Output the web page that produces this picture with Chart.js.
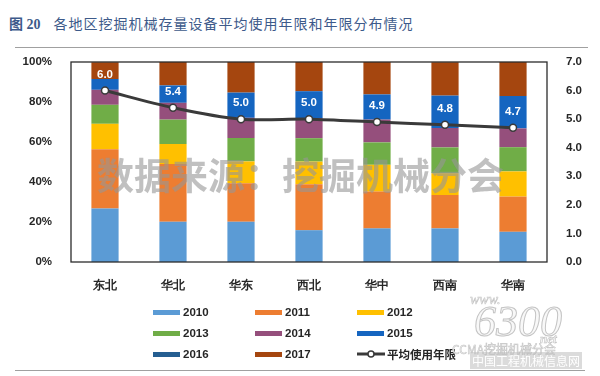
<!DOCTYPE html>
<html>
<head>
<meta charset="utf-8">
<script src="https://cdn.jsdelivr.net/npm/chart.js@4"></script>
<style>
	html, body { margin: 0; padding: 0; background: #fff; }
	#wrap { position: relative; width: 600px; height: 376px; overflow: hidden; font-family: Arial, "Liberation Sans", "Noto Sans CJK SC", sans-serif; }
	#salesChart { position: absolute; left: 0; top: 0; }
	.title { position: absolute; left: 9px; top: 13px; font-size: 14px; color: #3d5a8a; letter-spacing: 1px; font-family: "Noto Sans CJK SC", sans-serif; white-space: nowrap; }
	.title b { font-family: "Liberation Serif", "Noto Sans CJK SC", serif; font-weight: bold; margin-right: 13px; letter-spacing: 0; }
	.rule { position: absolute; left: 15px; width: 573px; height: 1px; background: #a0a0a0; }
	#legend { position: absolute; left: 153px; top: 304px; display: grid; grid-template-columns: 102px 102px 130px; row-gap: 5px; }
	.item { display: flex; align-items: center; height: 16px; font-size: 11.5px; font-weight: bold; color: #262626; white-space: nowrap; }
	.sw { width: 27px; height: 5px; margin-right: 3px; }
	.logo { position: absolute; color: #fff; pointer-events: none; }
</style>
</head>
<body>
<div id="wrap">
	<div class="title"><b>图 20</b>各地区挖掘机械存量设备平均使用年限和年限分布情况</div>
	<div class="rule" style="top:47px"></div>
	<canvas id="salesChart" width="600" height="376"></canvas>
	<div id="legend"></div>
	<div class="rule" style="top:370px;width:570px"></div>
	<div class="logo" style="left:470px;top:292px;font:italic 14px 'Liberation Serif',serif;color:#f4f4f4;-webkit-text-stroke:0.6px #c8c8c8">www.</div>
	<div class="logo" style="left:474px;top:296px;font:italic 44px 'Liberation Serif',serif;color:#f8f8f8;-webkit-text-stroke:1px #c4c4c4">6300</div>
	<div class="logo" style="left:540px;top:331px;font:italic bold 13px 'Liberation Serif',serif;color:#f4f4f4;-webkit-text-stroke:0.6px #c4c4c4">net</div>
	<div class="logo" style="left:452px;top:340px;font-size:12px;color:#f2f2f2;-webkit-text-stroke:0.5px #c0c0c0;font-family:'Noto Sans CJK SC',sans-serif">CCMA挖掘机械分会</div>
	<div class="logo" style="left:470px;top:352px;font-size:12px;color:#fff;background:rgba(190,190,190,0.55);padding:0 2px;font-family:'Noto Sans CJK SC',sans-serif">中国工程机械信息网</div>
</div>
<script>
const regions = ["东北", "华北", "华东", "西北", "华中", "西南", "华南"];
const y2010 = [26.8, 20.1, 20.1, 15.9, 16.8, 16.8, 15.1];
const y2011 = [29.6, 28.9, 19.3, 23.0, 18.4, 16.7, 17.6];
const y2012 = [12.7, 10.0, 10.9, 11.3, 13.4, 10.9, 12.6];
const y2013 = [9.5, 12.2, 11.7, 11.7, 11.2, 12.9, 12.1];
const y2014 = [7.5, 8.4, 10.1, 10.1, 11.4, 9.7, 9.4];
const y2015 = [5.4, 8.7, 12.6, 13.4, 12.6, 16.2, 16.2];
const y2016 = [0, 0, 0, 0, 0, 0, 0];
const y2017 = [8.4, 11.7, 15.4, 14.6, 16.2, 16.7, 17.1];
const avgYears = [6.0, 5.4, 5.0, 5.0, 4.9, 4.8, 4.7];

const pctTicks = [0, 20, 40, 60, 80, 100];
const yearTicks = [0, 1, 2, 3, 4, 5, 6, 7];

const yearNames = ["2010", "2011", "2012", "2013", "2014", "2015", "2016", "2017"];
const yearValues = [y2010, y2011, y2012, y2013, y2014, y2015, y2016, y2017];
const yearColors = ["#5b9bd5", "#ed7d31", "#ffc000", "#70ad47", "#954f7c", "#1565c0", "#255e91", "#a5460f"];

const tickFont = { family: "Arial, 'Liberation Sans', sans-serif", size: 11.5, weight: "bold" };

const datasets = yearNames.map((name, i) => ({
	type: "bar",
	label: name,
	data: yearValues[i],
	backgroundColor: yearColors[i],
	borderWidth: 0,
	barPercentage: 0.4,
	categoryPercentage: 1.0,
	yAxisID: "y",
	order: 2,
}));

datasets.push({
	type: "line",
	label: "平均使用年限",
	data: avgYears,
	yAxisID: "y2",
	borderColor: "#3a3a3a",
	borderWidth: 3,
	tension: 0.3,
	pointRadius: 3.5,
	pointBackgroundColor: "#ffffff",
	pointBorderColor: "#3a3a3a",
	pointBorderWidth: 1.5,
	order: 0,
});

// frame, point labels and watermark
const extras = {
	id: "extras",
	afterDatasetsDraw(chart) {
		const ctx = chart.ctx;
		const a = chart.chartArea;
		ctx.save();
		ctx.strokeStyle = "#2b2b2b";
		ctx.lineWidth = 1.3;
		ctx.strokeRect(a.left, a.top, a.right - a.left, a.bottom - a.top);

		const meta = chart.getDatasetMeta(chart.data.datasets.length - 1);
		ctx.fillStyle = "#ffffff";
		ctx.font = "bold 11.5px Arial, 'Liberation Sans', sans-serif";
		ctx.textAlign = "center";
		ctx.textBaseline = "middle";
		meta.data.forEach((pt, i) => {
			ctx.fillText(avgYears[i].toFixed(1), pt.x, pt.y - 16);
		});

		ctx.font = "bold 37px 'Noto Sans CJK SC', sans-serif";
		ctx.fillStyle = "rgba(150, 150, 150, 0.6)";
		ctx.textAlign = "left";
		ctx.fillText("数据来源：挖掘机械分会", 97, 176);
		ctx.restore();
	},
};

new Chart(document.getElementById("salesChart"), {
	data: { labels: regions, datasets: datasets },
	options: {
		responsive: false,
		animation: false,
		layout: { padding: { top: 62, bottom: 84, left: 0, right: 0 } },
		plugins: { legend: { display: false }, tooltip: { enabled: false } },
		scales: {
			x: {
				stacked: true,
				grid: { display: false },
				border: { display: false },
				ticks: { font: { ...tickFont, size: 12 }, color: "#262626", padding: 8 },
				afterFit: (s) => { s.height = 30; },
			},
			y: {
				stacked: true,
				position: "left",
				min: 0,
				max: 100,
				grid: { display: false },
				border: { display: false },
				afterBuildTicks: (s) => { s.ticks = pctTicks.map((v) => ({ value: v })); },
				ticks: { font: tickFont, color: "#262626", padding: 11, callback: (v) => v + "%" },
				afterFit: (s) => { s.width = 71; },
			},
			y2: {
				position: "right",
				min: 0,
				max: 7,
				grid: { display: false },
				border: { display: false },
				afterBuildTicks: (s) => { s.ticks = yearTicks.map((v) => ({ value: v })); },
				ticks: { font: tickFont, color: "#262626", padding: 11, callback: (v) => Number(v).toFixed(1) },
				afterFit: (s) => { s.width = 53; },
			},
		},
	},
	plugins: [extras],
});

// legend grid: 3 per row
const legend = document.getElementById("legend");
yearNames.forEach((name, i) => {
	legend.insertAdjacentHTML("beforeend",
		'<div class="item"><span class="sw" style="background:' + yearColors[i] + '"></span>' + name + "</div>");
});
legend.insertAdjacentHTML("beforeend",
	'<div class="item"><svg width="28" height="10" style="margin-right:2px"><line x1="0" y1="5" x2="28" y2="5" stroke="#3a3a3a" stroke-width="3"/><circle cx="14" cy="5" r="3" fill="#fff" stroke="#3a3a3a" stroke-width="1.5"/></svg>平均使用年限</div>');
</script>
</body>
</html>
